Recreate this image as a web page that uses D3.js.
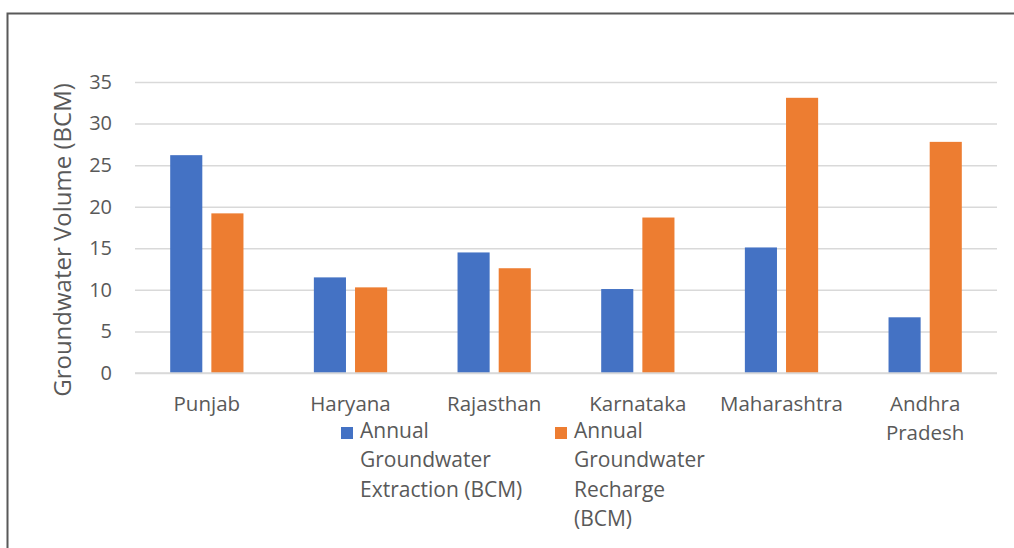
<!DOCTYPE html>
<html>
<head>
<meta charset="utf-8">
<script src="https://cdn.jsdelivr.net/npm/d3@7"></script>
<style>
  body { margin: 0; background: #fff; }
  text { font-family: "Open Sans", sans-serif; fill: #595959; }
</style>
</head>
<body>
<div id="chart"></div>
<script>
const states = ["Punjab", "Haryana", "Rajasthan", "Karnataka", "Maharashtra", "Andhra Pradesh"]
const extraction = [26.2, 11.5, 14.5, 10.1, 15.1, 6.7]
const recharge = [19.2, 10.3, 12.6, 18.7, 33.1, 27.8]
const seriesNames = ["Annual Groundwater Extraction (BCM)", "Annual Groundwater Recharge (BCM)"]
const legendLines = [["Annual", "Groundwater", "Extraction (BCM)"], ["Annual", "Groundwater", "Recharge", "(BCM)"]]
const yTicks = [0, 5, 10, 15, 20, 25, 30, 35]
const colors = ["#4472C4", "#ED7D31"]

let W = 1014, H = 548
let margin = { top: 82, right: 17, bottom: 175, left: 135 },
  width = W - margin.left - margin.right,
  height = H - margin.top - margin.bottom

let svg = d3.select("#chart").append("svg")
  .attr("width", W)
  .attr("height", H)

// outer frame (left and top edges only are visible)
svg.append("path")
  .attr("d", "M7.5,548V13.5H1014")
  .attr("fill", "none")
  .attr("stroke", "#595959")
  .attr("stroke-width", 2)

let g = svg.append("g")
  .attr("transform", "translate(" + margin.left + "," + margin.top + ")")

let x = d3.scaleBand()
  .domain(states)
  .range([0, width])
  .paddingInner(0.49)
  .paddingOuter(0.245)

let x1 = d3.scaleBand()
  .domain([0, 1])
  .range([0, x.bandwidth()])
  .paddingInner(0.22)

let y = d3.scaleLinear()
  .domain([0, 35])
  .range([height, 0])

// gridlines + tick labels
let yaxis = g.append("g")
  .call(d3.axisLeft(y).tickValues(yTicks).tickSize(-width).tickPadding(23))
yaxis.select(".domain").remove()
yaxis.selectAll("line").attr("stroke", "#d9d9d9").attr("stroke-width", 1.5)
yaxis.selectAll("text")
  .attr("font-size", "20px")
  .style("font-family", '"Open Sans", sans-serif')
  .attr("fill", "#595959")

// bars
let data = states.map((s, i) => ({ state: s, vals: [extraction[i], recharge[i]] }))
let groups = g.selectAll(".grp")
  .data(data)
  .enter()
  .append("g")
  .attr("class", "grp")
  .attr("transform", d => "translate(" + x(d.state) + ",0)")

groups.selectAll("rect")
  .data(d => d.vals.map((v, k) => ({ k: k, v: v })))
  .enter()
  .append("rect")
  .attr("x", d => x1(d.k))
  .attr("width", x1.bandwidth())
  .attr("y", d => y(d.v))
  .attr("height", d => height - y(d.v))
  .attr("fill", d => colors[d.k])

// baseline
g.append("line")
  .attr("x1", 0).attr("x2", width)
  .attr("y1", height).attr("y2", height)
  .attr("stroke", "#d9d9d9")
  .attr("stroke-width", 1.5)

// category labels, wrapped
function wrapWords(text, maxW, size) {
  let tmp = svg.append("text").attr("font-size", size)
  let words = text.split(" "), lines = [], cur = ""
  words.forEach(w => {
    let test = cur ? cur + " " + w : w
    tmp.text(test)
    if (tmp.node().getComputedTextLength() > maxW && cur) {
      lines.push(cur)
      cur = w
    } else cur = test
  })
  lines.push(cur)
  tmp.remove()
  return lines
}

states.forEach(s => {
  let lines = wrapWords(s, 132, "20.5px")
  let t = g.append("text")
    .attr("text-anchor", "middle")
    .attr("font-size", "20.5px")
    .attr("x", x(s) + x.bandwidth() / 2)
    .attr("y", height + 38)
  lines.forEach((l, i) => {
    t.append("tspan")
      .attr("x", x(s) + x.bandwidth() / 2)
      .attr("dy", i == 0 ? 0 : 29)
      .text(l)
  })
})

// y axis title
svg.append("text")
  .attr("transform", "translate(71,240) rotate(-90)")
  .attr("text-anchor", "middle")
  .attr("font-size", "24px")
  .text("Groundwater Volume (BCM)")

// legend
let legendX = [341, 555]
seriesNames.forEach((name, k) => {
  let lg = svg.append("g").attr("transform", "translate(" + legendX[k] + ",427)")
  lg.append("rect")
    .attr("width", 12).attr("height", 12)
    .attr("fill", colors[k])
  let t = lg.append("text").attr("font-size", "21px").attr("y", 11)
  legendLines[k].forEach((l, i) => {
    t.append("tspan")
      .attr("x", 19)
      .attr("dy", i == 0 ? 0 : 29.3)
      .text(l)
  })
})
</script>
</body>
</html>
